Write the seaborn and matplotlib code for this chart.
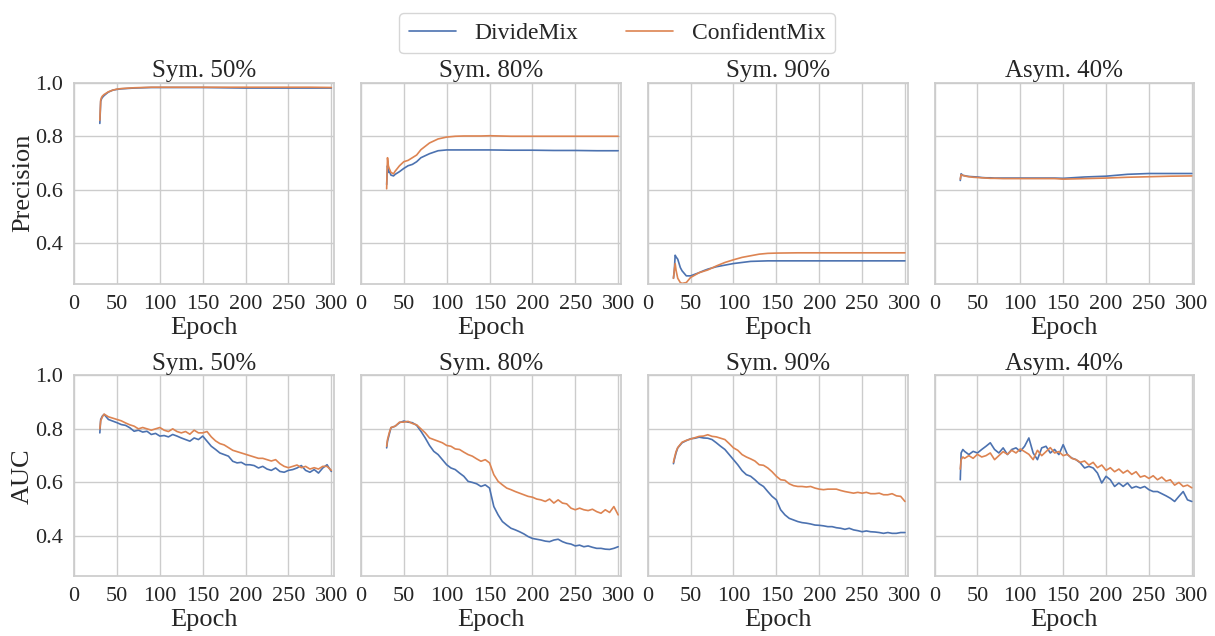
import numpy as np
import pandas as pd
import matplotlib
matplotlib.use('Agg')
import matplotlib.pyplot as plt
import seaborn as sns

# Panel titles and row labels
titles = ['Sym. 50%', 'Sym. 80%', 'Sym. 90%', 'Asym. 40%']
row_labels = ['Precision', 'AUC']
methods = ['DivideMix', 'ConfidentMix']

# Precision row
top_epochs = [30, 31, 32, 33, 35, 38, 40, 45, 50, 55, 60, 65, 70, 80, 90,
              100, 110, 120, 130, 140, 150, 175, 200, 225, 250, 275, 300]

prec_sym50_dm = [0.848, 0.930, 0.940, 0.945, 0.952, 0.960, 0.965, 0.972, 0.975, 0.977, 0.978, 0.979, 0.980, 0.981, 0.982,
                 0.982, 0.982, 0.982, 0.982, 0.982, 0.982, 0.981, 0.980, 0.980, 0.980, 0.980, 0.980]
prec_sym50_cm = [0.860, 0.935, 0.945, 0.950, 0.956, 0.962, 0.966, 0.972, 0.976, 0.978, 0.979, 0.980, 0.981, 0.982, 0.983,
                 0.983, 0.983, 0.983, 0.983, 0.983, 0.983, 0.983, 0.983, 0.983, 0.983, 0.983, 0.982]

prec_sym80_dm = [0.620, 0.690, 0.665, 0.670, 0.655, 0.652, 0.658, 0.668, 0.680, 0.690, 0.695, 0.705, 0.720, 0.735, 0.746,
                 0.749, 0.749, 0.749, 0.749, 0.749, 0.749, 0.748, 0.748, 0.747, 0.747, 0.746, 0.746]
prec_sym80_cm = [0.604, 0.720, 0.690, 0.680, 0.665, 0.660, 0.670, 0.690, 0.705, 0.710, 0.720, 0.730, 0.750, 0.775, 0.790,
                 0.797, 0.800, 0.801, 0.801, 0.801, 0.802, 0.800, 0.800, 0.800, 0.800, 0.800, 0.800]

prec_sym90_dm = [0.270, 0.300, 0.356, 0.350, 0.341, 0.310, 0.298, 0.279, 0.279, 0.285, 0.291, 0.298, 0.304, 0.313, 0.319,
                 0.325, 0.329, 0.333, 0.334, 0.335, 0.335, 0.335, 0.335, 0.335, 0.335, 0.335, 0.335]
prec_sym90_cm = [0.270, 0.300, 0.325, 0.300, 0.270, 0.254, 0.251, 0.254, 0.273, 0.282, 0.291, 0.296, 0.301, 0.316, 0.329,
                 0.339, 0.348, 0.354, 0.360, 0.363, 0.364, 0.365, 0.365, 0.365, 0.365, 0.365, 0.365]

prec_asym40_dm = [0.635, 0.660, 0.657, 0.654, 0.653, 0.651, 0.650, 0.649, 0.648, 0.646, 0.645, 0.645, 0.644, 0.644, 0.644,
                  0.644, 0.644, 0.644, 0.644, 0.644, 0.643, 0.648, 0.651, 0.658, 0.661, 0.661, 0.661]
prec_asym40_cm = [0.640, 0.657, 0.655, 0.654, 0.652, 0.650, 0.649, 0.647, 0.646, 0.645, 0.644, 0.643, 0.643, 0.642, 0.642,
                  0.642, 0.642, 0.642, 0.642, 0.642, 0.640, 0.642, 0.644, 0.647, 0.649, 0.651, 0.652]

# AUC row
bottom_epochs = [30, 31, 33, 35,
                 40, 45, 50, 55, 60, 65, 70, 75, 80, 85,
                 90, 95, 100, 105, 110, 115, 120, 125, 130, 135,
                 140, 145, 150, 155, 160, 165, 170, 175, 180, 185,
                 190, 195, 200, 205, 210, 215, 220, 225, 230, 235,
                 240, 245, 250, 255, 260, 265, 270, 275, 280, 285,
                 290, 295, 300]

auc_sym50_dm = [0.785, 0.835, 0.848, 0.854,
                0.835, 0.829, 0.823, 0.816, 0.813, 0.804, 0.791, 0.795, 0.788, 0.791,
                0.779, 0.783, 0.773, 0.775, 0.770, 0.779, 0.773, 0.766, 0.760, 0.754,
                0.766, 0.760, 0.773, 0.754, 0.735, 0.723, 0.710, 0.704, 0.698, 0.679,
                0.673, 0.675, 0.666, 0.666, 0.663, 0.654, 0.660, 0.650, 0.645, 0.654,
                0.641, 0.638, 0.645, 0.648, 0.654, 0.663, 0.645, 0.638, 0.648, 0.635,
                0.654, 0.666, 0.641]
auc_sym50_cm = [0.800, 0.830, 0.845, 0.855,
                0.845, 0.840, 0.835, 0.830, 0.822, 0.815, 0.810, 0.800, 0.805, 0.800,
                0.795, 0.800, 0.805, 0.795, 0.790, 0.800, 0.790, 0.785, 0.790, 0.780,
                0.795, 0.785, 0.785, 0.790, 0.770, 0.755, 0.745, 0.740, 0.730, 0.720,
                0.715, 0.710, 0.705, 0.700, 0.695, 0.690, 0.690, 0.685, 0.680, 0.685,
                0.670, 0.660, 0.655, 0.660, 0.665, 0.655, 0.660, 0.650, 0.655, 0.650,
                0.660, 0.660, 0.645]

auc_sym80_dm = [0.729, 0.754, 0.779, 0.804,
                0.810, 0.823, 0.829, 0.825, 0.823, 0.813, 0.791, 0.766, 0.738, 0.716,
                0.704, 0.685, 0.666, 0.654, 0.648, 0.635, 0.623, 0.604, 0.600, 0.595,
                0.585, 0.591, 0.579, 0.510, 0.479, 0.454, 0.441, 0.429, 0.423, 0.416,
                0.408, 0.398, 0.391, 0.388, 0.385, 0.381, 0.379, 0.385, 0.388, 0.379,
                0.373, 0.370, 0.363, 0.366, 0.360, 0.363, 0.358, 0.354, 0.354, 0.351,
                0.350, 0.354, 0.360]
auc_sym80_cm = [0.735, 0.760, 0.785, 0.805,
                0.810, 0.825, 0.825, 0.828, 0.820, 0.815, 0.800, 0.785, 0.766, 0.760,
                0.754, 0.748, 0.738, 0.735, 0.725, 0.723, 0.713, 0.704, 0.698, 0.688,
                0.679, 0.685, 0.673, 0.629, 0.604, 0.591, 0.579, 0.573, 0.566, 0.560,
                0.554, 0.548, 0.545, 0.538, 0.535, 0.529, 0.538, 0.523, 0.535, 0.523,
                0.520, 0.504, 0.498, 0.504, 0.498, 0.495, 0.500, 0.491, 0.485, 0.498,
                0.488, 0.510, 0.479]

auc_sym90_dm = [0.670, 0.685, 0.710, 0.729,
                0.748, 0.756, 0.763, 0.765, 0.769, 0.766, 0.765, 0.760, 0.748, 0.735,
                0.723, 0.704, 0.685, 0.666, 0.644, 0.629, 0.623, 0.610, 0.595, 0.585,
                0.566, 0.548, 0.535, 0.498, 0.479, 0.466, 0.460, 0.454, 0.450, 0.448,
                0.445, 0.441, 0.440, 0.438, 0.435, 0.435, 0.431, 0.429, 0.425, 0.429,
                0.423, 0.420, 0.416, 0.419, 0.416, 0.415, 0.413, 0.410, 0.413, 0.410,
                0.410, 0.413, 0.413]
auc_sym90_cm = [0.675, 0.690, 0.715, 0.730,
                0.750, 0.757, 0.762, 0.767, 0.772, 0.773, 0.778, 0.772, 0.770, 0.765,
                0.760, 0.745, 0.729, 0.720, 0.704, 0.695, 0.688, 0.680, 0.666, 0.664,
                0.654, 0.640, 0.623, 0.610, 0.608, 0.595, 0.588, 0.585, 0.585, 0.583,
                0.585, 0.579, 0.575, 0.573, 0.575, 0.575, 0.575, 0.570, 0.566, 0.563,
                0.560, 0.563, 0.560, 0.563, 0.558, 0.558, 0.560, 0.554, 0.554, 0.558,
                0.550, 0.548, 0.529]

auc_asym40_dm = [0.610, 0.710, 0.723, 0.716,
                 0.704, 0.716, 0.710, 0.723, 0.735, 0.748, 0.723, 0.710, 0.729, 0.704,
                 0.723, 0.729, 0.716, 0.735, 0.766, 0.710, 0.685, 0.729, 0.735, 0.710,
                 0.723, 0.704, 0.741, 0.704, 0.691, 0.685, 0.673, 0.654, 0.660, 0.654,
                 0.635, 0.598, 0.623, 0.610, 0.585, 0.598, 0.585, 0.598, 0.579, 0.585,
                 0.579, 0.585, 0.573, 0.566, 0.566, 0.558, 0.550, 0.541, 0.529, 0.548,
                 0.566, 0.535, 0.529]
auc_asym40_cm = [0.650, 0.685, 0.695, 0.690,
                 0.700, 0.690, 0.705, 0.695, 0.700, 0.710, 0.685, 0.700, 0.715, 0.705,
                 0.720, 0.710, 0.725, 0.715, 0.705, 0.685, 0.720, 0.700, 0.715, 0.730,
                 0.710, 0.715, 0.700, 0.705, 0.690, 0.685, 0.675, 0.680, 0.665, 0.675,
                 0.655, 0.665, 0.645, 0.655, 0.640, 0.650, 0.635, 0.645, 0.630, 0.640,
                 0.620, 0.625, 0.615, 0.625, 0.610, 0.620, 0.605, 0.610, 0.590, 0.600,
                 0.585, 0.590, 0.580]

prec_series = [(prec_sym50_dm, prec_sym50_cm), (prec_sym80_dm, prec_sym80_cm),
               (prec_sym90_dm, prec_sym90_cm), (prec_asym40_dm, prec_asym40_cm)]
auc_series = [(auc_sym50_dm, auc_sym50_cm), (auc_sym80_dm, auc_sym80_cm),
              (auc_sym90_dm, auc_sym90_cm), (auc_asym40_dm, auc_asym40_cm)]

sns.set_theme(style='whitegrid')
plt.rcParams['font.family'] = ['Liberation Serif', 'DejaVu Serif']

colors = sns.color_palette('deep')[:2]

fig, axes = plt.subplots(2, 4, figsize=(12.15, 6.36), dpi=100, sharey=True)

for row, (epochs, series) in enumerate([(top_epochs, prec_series), (bottom_epochs, auc_series)]):
    for col, (dm, cm) in enumerate(series):
        ax = axes[row, col]
        df = pd.DataFrame({'Epoch': epochs * 2,
                           'value': dm + cm,
                           'method': [methods[0]] * len(dm) + [methods[1]] * len(cm)})
        sns.lineplot(data=df, x='Epoch', y='value', hue='method', palette=colors,
                     ax=ax, linewidth=1.2, legend=(row == 0 and col == 0))
        ax.set_title(titles[col], fontsize=18, pad=4)
        ax.set_xlim(0, 303)
        ax.set_ylim(0.25, 1.0)
        ax.set_xticks([0, 50, 100, 150, 200, 250, 300])
        ax.set_yticks([0.4, 0.6, 0.8, 1.0])
        ax.tick_params(axis='both', labelsize=16, pad=2)
        ax.set_xlabel('Epoch', fontsize=19, labelpad=2)
        if col == 0:
            ax.set_ylabel(row_labels[row], fontsize=19, labelpad=1)
        else:
            ax.set_ylabel('')

handles, labels = axes[0, 0].get_legend_handles_labels()
axes[0, 0].get_legend().remove()
fig.legend(handles, labels, loc='upper center', bbox_to_anchor=(0.508, 0.998),
           ncol=2, fontsize=17, frameon=True, handlelength=2.0, columnspacing=2.0)

plt.subplots_adjust(left=0.061, right=0.983, top=0.870, bottom=0.094, wspace=0.104, hspace=0.456)
plt.savefig('out.png', dpi=100)
plt.close()
